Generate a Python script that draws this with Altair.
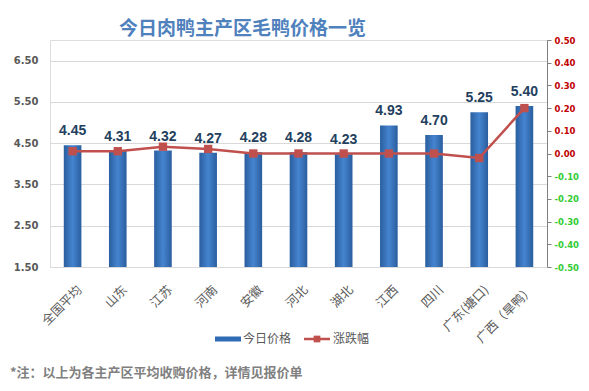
import altair as alt
import pandas as pd

# ---- data ----
categories = ["全国平均", "山东", "江苏", "河南", "安徽", "河北", "湖北", "江西", "四川", "广东(塘口)", "广西（旱鸭）"]
prices = [4.45, 4.31, 4.32, 4.27, 4.28, 4.28, 4.23, 4.93, 4.70, 5.25, 5.40]
changes = [0.01, 0.01, 0.03, 0.02, 0.00, 0.00, 0.00, 0.00, 0.00, -0.02, 0.20]
left_ticks = [1.5, 2.5, 3.5, 4.5, 5.5, 6.5]
right_ticks = [-0.5, -0.4, -0.3, -0.2, -0.1, 0.0, 0.1, 0.2, 0.3, 0.4, 0.5]
legend_labels = ["今日价格", "涨跌幅"]
title_text = "今日肉鸭主产区毛鸭价格一览"
note_text = "*注：以上为各主产区平均收购价格，详情见报价单"

df = pd.DataFrame({"region": categories, "price": prices, "change": changes})
one = pd.DataFrame({"k": [0]})

CJK = "Noto Sans CJK SC"
W, H = 497, 227
BAR_BLUE = "#2F6BB5"
LINE_RED = "#C0504D"

x_enc = alt.X(
    "region:N", sort=categories, title=None,
    scale=alt.Scale(paddingInner=0.61, paddingOuter=0.305),
    axis=alt.Axis(labelAngle=-45, labelFont=CJK, labelFontSize=12.5, labelColor="#595959",
                  domainColor="#D9D9D9", domainWidth=1, ticks=False, labelPadding=16,
                  labelOffset=3, grid=False),
)

y_left = alt.Y(
    "price:Q", title=None,
    scale=alt.Scale(domain=[1.5, 7.0], nice=False, zero=False),
    axis=alt.Axis(values=left_ticks, format=".2f", labelFont="DejaVu Sans", labelFontSize=10,
                  labelFontWeight="bold", labelColor="#595959", domain=False, ticks=False,
                  labelPadding=12, gridColor="#D9D9D9", gridWidth=1),
)

bar_grad = alt.Gradient(
    gradient="linear",
    stops=[alt.GradientStop(color="#2A5E9E", offset=0),
           alt.GradientStop(color="#4584D0", offset=0.5),
           alt.GradientStop(color="#2A5E9E", offset=1)],
    x1=0, x2=1, y1=0, y2=0,
)

bars = alt.Chart(df).mark_bar(color=bar_grad).encode(
    x=x_enc, y=y_left, y2=alt.datum(1.5)
)

bar_labels = alt.Chart(df).mark_text(
    dy=-14, font="Liberation Sans", fontSize=14, fontWeight="bold", color="#233F5E", baseline="middle"
).encode(x=x_enc, y=alt.Y("price:Q"), text=alt.Text("price:Q", format=".2f"))

left_layer = alt.layer(bars, bar_labels)

line = alt.Chart(df).mark_line(
    color=LINE_RED, strokeWidth=2.5,
    point=alt.OverlayMarkDef(shape="square", size=70, filled=True, color=LINE_RED, opacity=1),
).encode(
    x=x_enc,
    y=alt.Y("change:Q", title=None,
            scale=alt.Scale(domain=[-0.5, 0.5], nice=False),
            axis=alt.Axis(orient="right", values=right_ticks, grid=False,
                          labelExpr="format(datum.value, '.2f') == '-0.00' ? '0.00' : replace(format(datum.value, '.2f'), '\u2212', '-')",
                          labelFont="DejaVu Sans", labelFontSize=8.5, labelFontWeight="bold",
                          labelColor=alt.expr("datum.value < -0.001 ? '#33CC33' : '#C00000'"),
                          domainColor="#808080", tickColor="#808080", tickSize=4, labelPadding=3)),
)

# ---- legend (drawn manually to match the reference) ----
leg_rect = alt.Chart(one).mark_rect(color=BAR_BLUE).encode(
    x=alt.value(165), x2=alt.value(191), y=alt.value(296.5), y2=alt.value(301.5))
leg_text1 = alt.Chart(one).mark_text(align="left", baseline="middle", font=CJK, fontSize=12,
                                     color="#595959").encode(
    x=alt.value(193), y=alt.value(299), text=alt.value(legend_labels[0]))
leg_rule = alt.Chart(one).mark_rule(color=LINE_RED, strokeWidth=2.5).encode(
    x=alt.value(254), x2=alt.value(280), y=alt.value(299))
leg_pt = alt.Chart(one).mark_point(shape="square", size=45, filled=True, color=LINE_RED, opacity=1).encode(
    x=alt.value(267), y=alt.value(299))
leg_text2 = alt.Chart(one).mark_text(align="left", baseline="middle", font=CJK, fontSize=12,
                                     color="#595959").encode(
    x=alt.value(283), y=alt.value(299), text=alt.value(legend_labels[1]))

note = alt.Chart(one).mark_text(align="left", baseline="middle", font=CJK, fontSize=13,
                                fontWeight="bold", color="#808080").encode(
    x=alt.value(-40), y=alt.value(333), text=alt.value(note_text))

chart = alt.layer(
    left_layer, line, leg_rect, leg_text1, leg_rule, leg_pt, leg_text2, note
).resolve_scale(y="independent").properties(
    width=W, height=H,
    title=alt.TitleParams(title_text, font=CJK, fontSize=19, fontWeight="bold", color="#4F81BD",
                          anchor="middle", frame="group", dx=-56, offset=-3),
    autosize=alt.AutoSizeParams(type="none"),
    padding={"left": 42, "top": 32, "right": 34, "bottom": 116},
).configure_view(stroke=None).configure(background="white")

chart.save("out.html", embed_options={"renderer": "svg", "actions": False})
